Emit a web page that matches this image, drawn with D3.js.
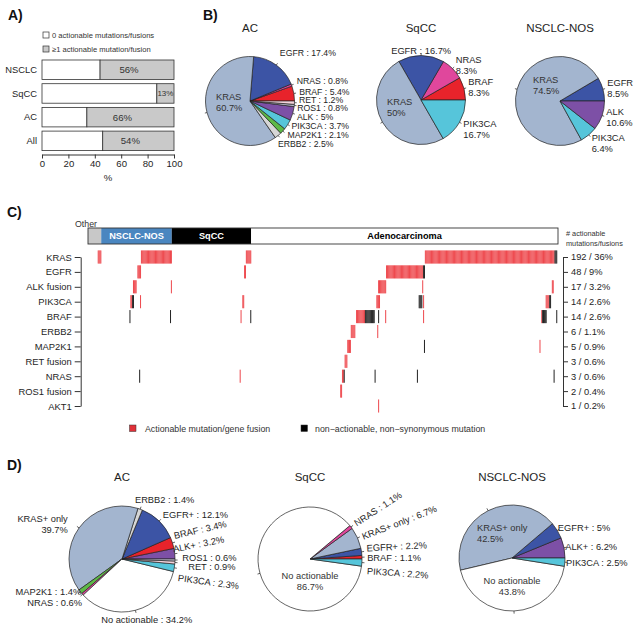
<!DOCTYPE html>
<html><head><meta charset="utf-8">
<script src="https://cdn.jsdelivr.net/npm/d3@7"></script>
<style>
body{margin:0;background:#fff;}
svg{font-family:"Liberation Sans",Arial,Helvetica,sans-serif;}
</style></head><body>
<svg id="chart" width="643" height="635"></svg>
<script>
// ================= DATA =================
// Panel A
const aCategories = ["NSCLC", "SqCC", "AC", "All"];
const aActionablePct = [56, 13, 66, 54];
const aValueLabels = ["56%", "13%", "66%", "54%"];
const aTicks = [0, 20, 40, 60, 80, 100];
const aLegendLabels = ["0 actionable mutations/fusions", "\u22651 actionable mutation/fusion"];

// Panel B (slices listed counter-clockwise from 3 o'clock)
const bAcGenes = ["BRAF", "NRAS", "EGFR", "KRAS", "ERBB2", "MAP2K1", "PIK3CA", "ALK", "ROS1", "RET"];
const bAcValues = [5.4, 0.8, 17.4, 60.7, 2.5, 2.1, 3.7, 5, 0.8, 1.2];
const bAcLabels = ["BRAF : 5.4%", "NRAS : 0.8%", "EGFR : 17.4%", "KRAS\n60.7%", "ERBB2 : 2.5%", "MAP2K1 : 2.1%", "PIK3CA : 3.7%", "ALK : 5%", "ROS1 : 0.8%", "RET : 1.2%"];
const bSqGenes = ["BRAF", "NRAS", "EGFR", "KRAS", "PIK3CA"];
const bSqValues = [8.3, 8.3, 16.7, 50, 16.7];
const bSqLabels = ["BRAF\n8.3%", "NRAS\n8.3%", "EGFR : 16.7%", "KRAS\n50%", "PIK3CA\n16.7%"];
const bNosGenes = ["EGFR", "KRAS", "PIK3CA", "ALK"];
const bNosValues = [8.5, 74.5, 6.4, 10.6];
const bNosLabels = ["EGFR\n8.5%", "KRAS\n74.5%", "PIK3CA\n6.4%", "ALK\n10.6%"];
const bTitles = ["AC", "SqCC", "NSCLC-NOS"];

// Panel C
const cGroups = ["Other", "NSCLC-NOS", "SqCC", "Adenocarcinoma"];
const cGroupSizes = [15, 80, 90, 348];
const cGenes = ["KRAS", "EGFR", "ALK fusion", "PIK3CA", "BRAF", "ERBB2", "MAP2K1", "RET fusion", "NRAS", "ROS1 fusion", "AKT1"];
const cCountLabels = ["192 / 36%", "48 / 9%", "17 / 3.2%", "14 / 2.6%", "14 / 2.6%", "6 / 1.1%", "5 / 0.9%", "3 / 0.6%", "3 / 0.6%", "2 / 0.4%", "1 / 0.2%"];
// sample runs: [first sample, end sample (exclusive), type]  a = actionable, n = non-actionable
const cKRAS = [[11, 15, "a"], [60, 95, "a"], [179, 185, "a"], [382, 529, "a"], [529, 532, "n"]];
const cEGFR = [[56, 60, "a"], [177, 179, "a"], [338, 380, "a"], [380, 382, "n"]];
const cALK = [[51, 55, "a"], [94, 95, "a"], [329, 338, "a"], [379, 380, "a"], [526, 528, "a"]];
const cPIK3CA = [[48, 50, "a"], [50, 52, "n"], [59, 60, "a"], [175, 177, "a"], [327, 331, "a"], [375, 379, "n"], [380, 381, "a"], [519, 523, "a"], [523, 525, "n"]];
const cBRAF = [[47, 48, "n"], [93, 94, "n"], [173, 174, "a"], [184, 185, "n"], [304, 314, "a"], [314, 325, "n"], [329, 330, "n"], [337, 338, "a"], [380, 381, "a"], [514, 515, "a"], [515, 520, "n"], [531, 532, "n"]];
const cERBB2 = [[298, 303, "a"], [328, 329, "a"]];
const cMAP2K1 = [[294, 298, "a"], [381, 382, "n"], [512, 513, "a"]];
const cRET = [[291, 294, "a"]];
const cNRAS = [[58, 59, "n"], [172, 173, "a"], [288, 290, "a"], [290, 291, "n"], [325, 326, "n"], [373, 374, "n"], [528, 529, "n"]];
const cROS1 = [[286, 288, "a"]];
const cAKT1 = [[329, 330, "a"]];
const cLegendLabels = ["Actionable mutation/gene fusion", "non\u2212actionable, non\u2212synonymous mutation"];

// Panel D (slices counter-clockwise from 3 o'clock)
const dAcGroups = ["ALK+", "BRAF", "EGFR+", "ERBB2", "KRAS+ only", "MAP2K1", "NRAS", "No actionable", "PIK3CA", "RET", "ROS1"];
const dAcValues = [3.2, 3.4, 12.1, 1.4, 39.7, 1.4, 0.6, 34.2, 2.3, 0.9, 0.6];
const dAcLabels = ["ALK+ : 3.2%", "BRAF : 3.4%", "EGFR+ : 12.1%", "ERBB2 : 1.4%", "KRAS+ only\n39.7%", "MAP2K1 : 1.4%", "NRAS : 0.6%", "No actionable : 34.2%", "PIK3CA : 2.3%", "RET : 0.9%", "ROS1 : 0.6%"];
const dSqGroups = ["BRAF", "EGFR+", "KRAS+ only", "NRAS", "No actionable", "PIK3CA"];
const dSqValues = [1.1, 2.2, 6.7, 1.1, 86.7, 2.2];
const dSqLabels = ["BRAF : 1.1%", "EGFR+ : 2.2%", "KRAS+ only : 6.7%", "NRAS : 1.1%", "No actionable\n86.7%", "PIK3CA : 2.2%"];
const dNosGroups = ["ALK+", "EGFR+", "KRAS+ only", "No actionable", "PIK3CA"];
const dNosValues = [6.2, 5, 42.5, 43.8, 2.5];
const dNosLabels = ["ALK+ : 6.2%", "EGFR+ : 5%", "KRAS+ only\n42.5%", "No actionable\n43.8%", "PIK3CA : 2.5%"];
const dTitles = ["AC", "SqCC", "NSCLC-NOS"];

// ================= STYLE =================
const TXT = "#1e1e1e";
const pieColors = {
  "KRAS": "#a3b5cf", "KRAS+ only": "#a3b5cf",
  "EGFR": "#3c54a5", "EGFR+": "#3c54a5",
  "NRAS": "#e0479c", "BRAF": "#e8232b",
  "RET": "#f3d3dc", "ROS1": "#c6c4d8",
  "ALK": "#7d50a6", "ALK+": "#7d50a6",
  "PIK3CA": "#56c5da", "MAP2K1": "#5db947",
  "ERBB2": "#d6d6d6", "No actionable": "#ffffff"
};
const RED = "#ee4a4f", BLK = "#262626";

const svg = d3.select("#chart");

// panel letters
svg.selectAll("text.panel").data([["A)", 8, 20], ["B)", 203, 20], ["C)", 7, 217], ["D)", 7, 470]])
  .join("text").attr("class", "panel")
  .attr("x", d => d[1]).attr("y", d => d[2])
  .attr("font-size", 14).attr("font-weight", "bold").attr("fill", "#111").text(d => d[0]);

// ================= PANEL A =================
(function () {
  const g = svg.append("g");
  const x = d3.scaleLinear().domain([0, 100]).range([42, 174]);
  const y = d3.scaleBand().domain(aCategories).range([57.9, 152.7]).paddingInner(0.177).paddingOuter(0.0885);
  const rows = aCategories.map((c, i) => ({ c, act: aActionablePct[i], lab: aValueLabels[i] }));

  g.selectAll("rect.none").data(rows).join("rect")
    .attr("x", x(0)).attr("y", d => y(d.c))
    .attr("width", d => x(100 - d.act) - x(0)).attr("height", y.bandwidth())
    .attr("fill", "#fff").attr("stroke", "#333").attr("stroke-width", 0.8);
  g.selectAll("rect.act").data(rows).join("rect")
    .attr("x", d => x(100 - d.act)).attr("y", d => y(d.c))
    .attr("width", d => x(100) - x(100 - d.act)).attr("height", y.bandwidth())
    .attr("fill", "#c9c9c9").attr("stroke", "#333").attr("stroke-width", 0.8);
  g.selectAll("text.val").data(rows).join("text")
    .attr("x", d => { const c = (x(100 - d.act) + x(100)) / 2; return (x(100) - x(100 - d.act)) > 40 ? c - 8 : c; })
    .attr("y", d => y(d.c) + y.bandwidth() / 2).attr("dy", "0.35em")
    .attr("text-anchor", "middle").attr("font-size", (d) => d.act < 20 ? 8 : 9.6).attr("fill", "#333").text(d => d.lab);
  g.selectAll("text.cat").data(rows).join("text")
    .attr("x", 37).attr("y", d => y(d.c) + y.bandwidth() / 2).attr("dy", "0.35em")
    .attr("text-anchor", "end").attr("font-size", 9.4).attr("fill", TXT).text(d => d.c);

  const axis = g.append("g").attr("transform", "translate(0,154.5)")
    .call(d3.axisBottom(x).tickValues(aTicks).tickSize(4).tickSizeOuter(0).tickPadding(2));
  axis.select(".domain").attr("stroke", "#333");
  axis.selectAll(".tick line").attr("stroke", "#333");
  axis.selectAll(".tick text").attr("font-size", 9.6).attr("fill", TXT).attr("font-family", null);
  g.append("text").attr("x", 108).attr("y", 181).attr("text-anchor", "middle").attr("font-size", 9.6).attr("fill", TXT).text("%");

  const leg = g.selectAll("g.leg").data(aLegendLabels).join("g").attr("transform", (d, i) => `translate(43,${32 + i * 14})`);
  leg.append("rect").attr("width", 6).attr("height", 6).attr("fill", (d, i) => i ? "#c9c9c9" : "#fff").attr("stroke", "#333").attr("stroke-width", 0.7);
  leg.append("text").attr("x", 9).attr("y", 3).attr("dy", "0.35em").attr("font-size", 7.6).attr("fill", "#333").text(d => d);
})();

// ================= PIE HELPER =================
function drawPie(cfg) {
  const g = svg.append("g").attr("transform", `translate(${cfg.cx},${cfg.cy})`);
  const data = cfg.names.map((n, i) => ({ n, v: cfg.values[i], label: cfg.labels[i] }));
  const pie = d3.pie().sort(null).value(d => d.v).startAngle(Math.PI / 2).endAngle(Math.PI / 2 - 2 * Math.PI);
  const arcs = pie(data);
  const arc = d3.arc().innerRadius(0).outerRadius(cfg.r);
  g.selectAll("path").data(arcs).join("path").attr("d", arc)
    .attr("fill", d => pieColors[d.data.n]).attr("stroke", "#222").attr("stroke-width", 0.7);
  g.append("text").attr("x", 0).attr("y", cfg.titleY - cfg.cy).attr("text-anchor", "middle")
    .attr("font-size", 11.5).attr("fill", TXT).text(cfg.title);
  const lh = 11;
  const fs = cfg.fontSize || 9.3;
  arcs.forEach(a => {
    const mid = (a.startAngle + a.endAngle) / 2;
    const sx = Math.sin(mid), sy = -Math.cos(mid);
    g.append("line").attr("x1", sx * cfg.r).attr("y1", sy * cfg.r)
      .attr("x2", sx * cfg.r * 1.05).attr("y2", sy * cfg.r * 1.05)
      .attr("stroke", "#222").attr("stroke-width", 0.7);
    const L = cfg.layout[a.data.n] || {};
    let px, py, anchor;
    if (L.inside) { px = L.inside[0]; py = L.inside[1]; anchor = L.anchor || "start"; }
    else {
      px = sx * cfg.r * 1.1 + (L.dx || 0); py = sy * cfg.r * 1.1 + (L.dy || 0);
      anchor = L.anchor || (Math.abs(sx) < 0.15 ? "middle" : (sx > 0 ? "start" : "end"));
    }
    const lines = a.data.label.split("\n");
    const t = g.append("text").attr("transform", `translate(${px},${py}) rotate(${L.rot || 0})`)
      .attr("text-anchor", anchor).attr("font-size", L.inside ? 9.3 : fs).attr("fill", L.inside ? "#333" : TXT);
    lines.forEach((ln, k) => t.append("tspan").attr("x", 0).attr("y", (k - (lines.length - 1) / 2) * lh).attr("dy", "0.35em").text(ln));
  });
}

// ================= PANEL B =================
drawPie({ cx: 250, cy: 101, r: 44.5, titleY: 32, title: bTitles[0], names: bAcGenes, values: bAcValues, labels: bAcLabels, fontSize: 8.7,
  layout: { KRAS: { inside: [-34, 1.5] }, EGFR: { dx: 1, dy: -8.4 }, NRAS: { dx: 1, dy: -2.8 }, BRAF: { dx: 1, dy: -1.1 },
    RET: { dy: -3.2 }, ROS1: { dx: -1.5, dy: 2.2 }, ALK: { dy: 2.2 }, PIK3CA: { dy: -1.2 }, MAP2K1: { dx: 1.4, dy: 0.9 }, ERBB2: { dx: -3, dy: 5.1 } } });
drawPie({ cx: 421, cy: 100, r: 44.5, titleY: 32, title: bTitles[1], names: bSqGenes, values: bSqValues, labels: bSqLabels,
  layout: { KRAS: { inside: [-34, 7] }, PIK3CA: { dy: 5 } } });
drawPie({ cx: 560, cy: 101, r: 44.5, titleY: 32, title: bTitles[2], names: bNosGenes, values: bNosValues, labels: bNosLabels,
  layout: { KRAS: { inside: [-27, -15.5] }, PIK3CA: { dy: 5 } } });

// ================= PANEL C =================
(function () {
  const g = svg.append("g");
  const nSamples = d3.sum(cGroupSizes);
  const x = d3.scaleBand().domain(d3.range(nSamples)).range([88, 558]).padding(0);
  const y = d3.scalePoint().domain(cGenes).range([257, 406]);
  const bh = 13.1;

  // group annotation bar
  const starts = d3.cumsum([0].concat(cGroupSizes.slice(0, -1)));
  const groups = cGroups.map((n, i) => ({ n, s: starts[i], e: starts[i] + cGroupSizes[i] }));
  const gFill = { "Other": "#c8c8c8", "NSCLC-NOS": "#4a86c0", "SqCC": "#000", "Adenocarcinoma": "#fff" };
  const gText = { "NSCLC-NOS": "#fff", "SqCC": "#fff", "Adenocarcinoma": "#000" };
  const xEdge = i => i >= nSamples ? x.range()[1] : x(i);
  g.selectAll("rect.grp").data(groups).join("rect")
    .attr("x", d => xEdge(d.s)).attr("y", 228).attr("width", d => xEdge(d.e) - xEdge(d.s)).attr("height", 16)
    .attr("fill", d => gFill[d.n]);
  g.append("rect").attr("x", 88).attr("y", 228).attr("width", 470).attr("height", 16).attr("fill", "none").attr("stroke", "#333").attr("stroke-width", 0.9);
  g.selectAll("text.grp").data(groups.filter(d => d.n !== "Other")).join("text")
    .attr("x", d => (xEdge(d.s) + xEdge(d.e)) / 2).attr("y", 236).attr("dy", "0.35em")
    .attr("text-anchor", "middle").attr("font-size", 9.2).attr("font-weight", "bold").attr("fill", d => gText[d.n]).text(d => d.n);
  g.append("text").attr("x", 86).attr("y", 224).attr("dy", "0.35em").attr("text-anchor", "middle")
    .attr("font-size", 8.8).attr("fill", "#333").text(groups[0].n);

  // sample cells
  const tracks = [cKRAS, cEGFR, cALK, cPIK3CA, cBRAF, cERBB2, cMAP2K1, cRET, cNRAS, cROS1, cAKT1];
  const cells = [];
  tracks.forEach((runs, gi) => runs.forEach(([s, e, t]) => { for (let i = s; i < e; i++) cells.push({ gene: cGenes[gi], i, t }); }));
  g.selectAll("rect.cell").data(cells).join("rect")
    .attr("x", d => x(d.i)).attr("y", d => y(d.gene) - bh / 2)
    .attr("width", x.bandwidth() * 1.15).attr("height", bh)
    .attr("fill", d => d.t === "a" ? RED : BLK);

  // axes
  const la = g.append("g").attr("transform", "translate(80.7,0)").call(d3.axisLeft(y).tickSize(6).tickSizeOuter(0).tickPadding(3));
  la.select(".domain").attr("stroke", "#333");
  la.selectAll(".tick line").attr("stroke", "#333");
  la.selectAll(".tick text").attr("font-size", 9.4).attr("fill", TXT).attr("font-family", null);
  const yr = d3.scalePoint().domain(cCountLabels.map((d, i) => i)).range([257, 406]);
  const ra = g.append("g").attr("transform", "translate(563,0)").call(d3.axisRight(yr).tickSize(5).tickSizeOuter(0).tickPadding(3).tickFormat(i => cCountLabels[i]));
  ra.select(".domain").attr("stroke", "#333");
  ra.selectAll(".tick line").attr("stroke", "#333");
  ra.selectAll(".tick text").attr("font-size", 9.3).attr("fill", TXT).attr("font-family", null);
  g.append("text").attr("x", 566).attr("y", 233).attr("dy", "0.35em").attr("font-size", 7.3).attr("fill", "#333").text("# actionable");
  g.append("text").attr("x", 566).attr("y", 243).attr("dy", "0.35em").attr("font-size", 7.3).attr("fill", "#333").text("mutations/fusions");

  // legend
  const lg = g.selectAll("g.cleg").data(cLegendLabels).join("g").attr("transform", (d, i) => `translate(${i ? 301 : 129.5},425)`);
  lg.append("rect").attr("width", 6.5).attr("height", 6.5).attr("fill", (d, i) => i ? "#000" : "#e03038").attr("stroke", "#333").attr("stroke-width", 0.5);
  lg.append("text").attr("x", (d, i) => i ? 14 : 15.5).attr("y", 3.5).attr("dy", "0.35em").attr("font-size", 8.8).attr("fill", "#333").text(d => d);
})();

// ================= PANEL D =================
drawPie({ cx: 122, cy: 559, r: 53, titleY: 481, title: dTitles[0], names: dAcGroups, values: dAcValues, labels: dAcLabels,
  layout: {
    "ERBB2": { dx: -7, dy: -4 }, "EGFR+": { dy: -3 }, "BRAF": { dx: -3.5, dy: -5.5, rot: -13 }, "ALK+": { dx: -7, dy: -4, rot: -11 },
    "ROS1": { dx: 2, dy: -2 }, "RET": { dx: 8, dy: 4 }, "PIK3CA": { dx: -1.5, dy: 9, rot: 8 }, "KRAS+ only": { dx: -7, dy: -1 },
    "MAP2K1": { dx: 5, dy: -3 }, "NRAS": { dx: 3.5, dy: 5 }, "No actionable": { dx: 10, dy: 4, anchor: "middle" }
  } });
drawPie({ cx: 310, cy: 559, r: 52, titleY: 481, title: dTitles[1], names: dSqGroups, values: dSqValues, labels: dSqLabels,
  layout: {
    "NRAS": { rot: -33 }, "KRAS+ only": { dy: 1, rot: -21 }, "EGFR+": { dy: -3, rot: -3 }, "BRAF": { dy: 1 },
    "PIK3CA": { dy: 8, rot: 4 }, "No actionable": { inside: [0, 22.5], anchor: "middle" }
  } });
drawPie({ cx: 512, cy: 558, r: 53, titleY: 481, title: dTitles[2], names: dNosGroups, values: dNosValues, labels: dNosLabels,
  layout: {
    "EGFR+": { dx: -4 }, "ALK+": { dx: -4 }, "PIK3CA": { dx: -4 },
    "KRAS+ only": { inside: [-35, -25] }, "No actionable": { inside: [0, 28.5], anchor: "middle" }
  } });
</script>
</body></html>
